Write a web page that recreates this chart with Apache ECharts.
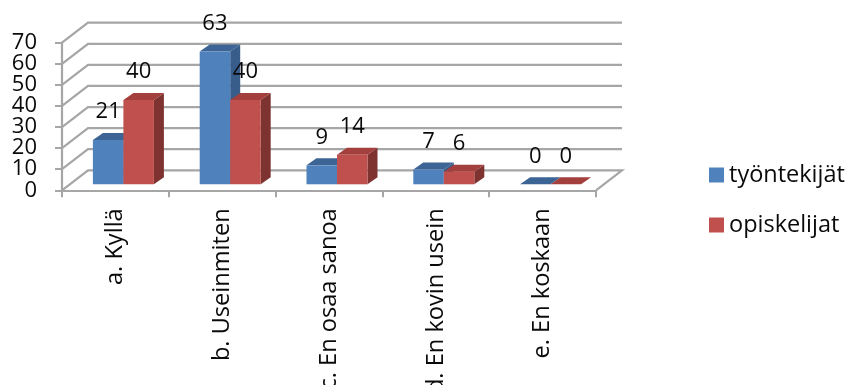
<!DOCTYPE html>
<html>
<head>
<meta charset="utf-8">
<style>html,body{margin:0;padding:0;background:#fff;overflow:hidden}#chart{width:850px;height:385px}</style>
<script src="https://cdn.jsdelivr.net/npm/echarts@6/dist/echarts.min.js"></script>
</head>
<body>
<div id="chart"></div>
<script>
const categories = ['a. Kyllä', 'b. Useinmiten', 'c. En osaa sanoa', 'd. En kovin usein', 'e. En koskaan'];
const tyontekijat = [21, 63, 9, 7, 0];
const opiskelijat = [40, 40, 14, 6, 0];
const yTicks = [0, 10, 20, 30, 40, 50, 60, 70];

const FONT = '"Open Sans"';
const INK = '#0a0a0a';
const GRID_LINE = '#a6a6a6';
// Oblique offset of the back wall and of the bars, in pixels
const WALL_DX = 26, WALL_DY = 20;
const BAR_DX = 10, BAR_DY = 7;
const BAR_W = 30.5;
const BAR_SHIFT_X = 8, BAR_SHIFT_Y = 6;
// Tick labels sit closer together than their line height, so the wall series
// draws them itself instead of letting the axis drop the ones that collide.
const TICK_LABEL_GAP = 25;

function renderWall(params, api) {
  const v = api.value(1);
  const cs = params.coordSys;
  const y = api.coord([0, v])[1];
  const left = cs.x, right = cs.x + cs.width;
  const pts = [[left, y], [left + WALL_DX, y - WALL_DY], [right + WALL_DX, y - WALL_DY]];
  if (v === 0) pts.push([right, y]);
  return {
    type: 'group',
    silent: true,
    children: [
      { type: 'polyline', shape: { points: pts }, style: { stroke: GRID_LINE, lineWidth: 2.2, fill: 'none' } },
      { type: 'text', style: { text: String(v), x: left - TICK_LABEL_GAP, y: y, align: 'right', verticalAlign: 'middle', font: '22px ' + FONT, fill: INK } }
    ]
  };
}

function barRenderer(slot, front, top, side) {
  return function (params, api) {
    const i = api.value(0), v = api.value(1);
    const c = api.coord([i, v]);
    const yb = api.coord([i, 0])[1] - BAR_SHIFT_Y;
    const yt = c[1] - BAR_SHIFT_Y;
    const x0 = c[0] + BAR_SHIFT_X + (slot - 1) * BAR_W;
    const x1 = x0 + BAR_W;
    return {
      type: 'group',
      children: [
        { type: 'polygon', shape: { points: [[x1, yt], [x1 + BAR_DX, yt - BAR_DY], [x1 + BAR_DX, yb - BAR_DY], [x1, yb]] }, style: { fill: side } },
        { type: 'polygon', shape: { points: [[x0, yt], [x0 + BAR_DX, yt - BAR_DY], [x1 + BAR_DX, yt - BAR_DY], [x1, yt]] }, style: { fill: top } },
        { type: 'rect', shape: { x: x0, y: yt, width: BAR_W, height: yb - yt }, style: { fill: front } },
        { type: 'text', style: { text: String(v), x: (x0 + x1) / 2, y: yt - 28, align: 'center', verticalAlign: 'middle', font: '22px ' + FONT, fill: INK } }
      ]
    };
  };
}

const chart = echarts.init(document.getElementById('chart'), null, { renderer: 'canvas' });
chart.setOption({
  animation: false,
  backgroundColor: '#fff',
  grid: { left: 62, top: 42.7, width: 534, height: 147.6, outerBoundsMode: 'none' },
  legend: {
    orient: 'vertical', left: 709, top: 163, padding: 0,
    itemWidth: 15, itemHeight: 15, itemGap: 26,
    icon: 'rect',
    data: ['työntekijät', 'opiskelijat'],
    textStyle: { fontFamily: FONT, fontSize: 23.5, color: INK }
  },
  xAxis: {
    type: 'category', data: categories,
    axisLine: { lineStyle: { color: GRID_LINE, width: 2.2 } },
    axisTick: { show: true, alignWithLabel: false, length: 7, lineStyle: { color: GRID_LINE, width: 2 } },
    axisLabel: { rotate: 90, interval: 0, margin: 18, hideOverlap: false, fontFamily: FONT, fontSize: 23.6, color: INK, padding: [6, 0, 0, 0] },
    splitLine: { show: false }
  },
  yAxis: {
    type: 'value', min: 0, max: 70, interval: 10,
    axisLine: { show: true, lineStyle: { color: GRID_LINE, width: 2.2 } },
    axisTick: { show: true, length: 7, lineStyle: { color: GRID_LINE, width: 2 } },
    axisLabel: { show: false },
    splitLine: { show: false }
  },
  series: [
    { type: 'custom', name: 'wall', silent: true, z: 1, clip: false, renderItem: renderWall,
      encode: { x: 0, y: 1 }, data: yTicks.map(t => [0, t]) },
    { type: 'custom', name: 'työntekijät', z: 2, clip: false, itemStyle: { color: '#4f81bd' },
      renderItem: barRenderer(0, '#4f81bd', '#3c6494', '#385d8a'),
      encode: { x: 0, y: 1 }, data: tyontekijat.map((v, i) => [i, v]) },
    { type: 'custom', name: 'opiskelijat', z: 3, clip: false, itemStyle: { color: '#c0504d' },
      renderItem: barRenderer(1, '#c0504d', '#a3403d', '#7f3331'),
      encode: { x: 0, y: 1 }, data: opiskelijat.map((v, i) => [i, v]) }
  ]
});
</script>
</body>
</html>
